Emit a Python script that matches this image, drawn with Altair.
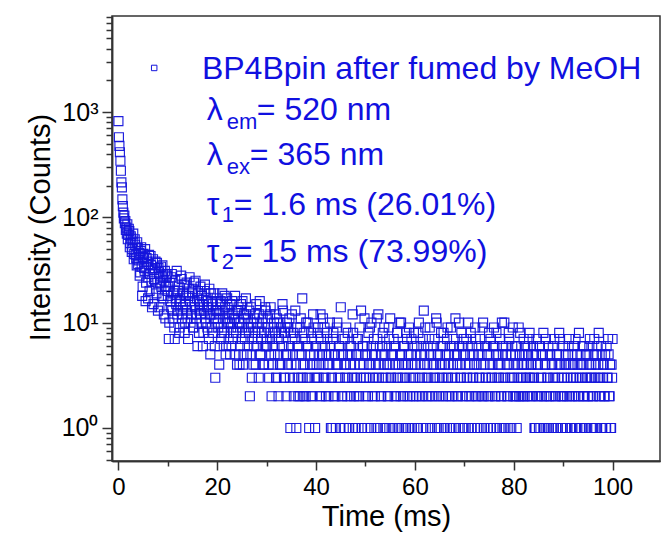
import altair as alt
import pandas as pd

# ---------------- data ----------------
# counts on even channels: t = 0.0, 0.2, 0.4, ... 100.0 ms
even_00_10 = [820, 478, 345, 215, 148, 111, 104, 92, 80, 86,
              68, 74, 57, 63, 50, 70, 45, 55, 41, 58,
              36, 46, 30, 52, 18, 42, 33, 50, 24, 38,
              17, 44, 29, 35, 14, 40, 26, 33, 21, 37,
              13, 30, 24, 34, 18, 27, 12, 31, 22, 28]
even_10_20 = [18, 7, 24, 14, 29, 11, 20, 7, 17, 31,
              13, 22, 9, 16, 26, 12, 19, 8, 15, 24,
              11, 18, 27, 10, 14, 21, 9, 16, 25, 12,
              6, 19, 13, 22, 10, 15, 8, 20, 11, 17,
              9, 14, 21, 5, 12, 16, 8, 19, 3, 11]
even_20_30 = [13, 9, 4, 15, 7, 19, 11, 8, 14, 6,
              17, 10, 12, 5, 9, 16, 7, 11, 18, 8,
              4, 13, 10, 6, 15, 9, 4, 12, 7, 17,
              5, 11, 8, 2, 14, 3, 9, 6, 12, 4,
              10, 7, 3, 16, 5, 8, 11, 4, 6, 13]
even_30_40 = [7, 11, 4, 8, 14, 2, 6, 9, 5, 12,
              3, 7, 2, 10, 4, 8, 15, 6, 3, 9,
              2, 5, 9, 11, 1, 4, 7, 8, 3, 13,
              1, 6, 2, 5, 9, 3, 17, 4, 2, 7,
              10, 3, 6, 1, 4, 8, 2, 12, 5, 1]
even_40_50 = [6, 3, 9, 4, 2, 7, 5, 11, 3, 6,
              2, 8, 4, 5, 10, 1, 3, 7, 2, 5,
              1, 9, 4, 6, 3, 14, 2, 5, 1, 7,
              4, 3, 8, 1, 6, 2, 5, 12, 3, 4,
              1, 7, 2, 5, 9, 3, 1, 6, 4, 11]
even_50_60 = [2, 5, 1, 8, 3, 4, 10, 2, 6, 1,
              5, 3, 7, 12, 4, 1, 2, 6, 3, 9,
              5, 1, 4, 2, 7, 11, 3, 5, 1, 6,
              4, 2, 8, 3, 1, 5, 10, 4, 2, 6,
              3, 1, 7, 4, 9, 2, 5, 1, 3, 8]
even_60_70 = [4, 2, 6, 1, 10, 3, 5, 2, 7, 13,
              4, 1, 3, 6, 2, 9, 5, 1, 4, 3,
              7, 2, 10, 5, 1, 3, 6, 4, 2, 8,
              1, 5, 3, 9, 4, 2, 6, 1, 3, 7,
              5, 11, 2, 4, 1, 6, 3, 8, 2, 5]
even_70_80 = [1, 4, 7, 3, 10, 2, 5, 1, 6, 3,
              4, 9, 2, 1, 5, 3, 7, 4, 2, 10,
              1, 6, 3, 5, 2, 8, 4, 1, 3, 6,
              9, 2, 5, 1, 4, 3, 7, 2, 10, 5,
              1, 3, 6, 4, 2, 8, 1, 5, 3, 9]
even_80_90 = [4, 2, 6, 1, 3, 9, 5, 2, 4, 3,
              7, 2, 5, 4, 6, 3, 8, 2, 4, 5,
              3, 1, 1, 7, 4, 2, 6, 1, 3, 5,
              8, 2, 4, 1, 3, 6, 2, 5, 1, 4,
              3, 7, 2, 1, 5, 3, 8, 4, 1, 2]
even_90_100 = [6, 3, 1, 4, 2, 5, 7, 1, 3, 2,
               4, 6, 1, 3, 5, 2, 8, 1, 4, 3,
               2, 6, 1, 5, 3, 2, 4, 7, 1, 3,
               2, 5, 1, 4, 6, 3, 8, 2, 1, 5,
               3, 4, 2, 1, 6, 3, 5, 2, 1, 4,
               7]

# counts on odd channels: t = 0.1, 0.3, 0.5, ... 99.9 ms
odd_00_10 = [577, 415, 277, 193, 128, 98, 88, 76, 70, 62,
             78, 52, 66, 47, 59, 40, 62, 44, 35, 51,
             39, 28, 48, 34, 22, 45, 31, 16, 41, 27,
             36, 20, 43, 25, 32, 15, 29, 38, 19, 24,
             33, 14, 28, 22, 35, 17, 25, 11, 29, 20]
odd_10_20 = [22, 10, 16, 27, 13, 19, 9, 25, 15, 12,
             20, 8, 17, 28, 11, 14, 23, 10, 18, 13,
             7, 21, 16, 12, 19, 9, 24, 14, 11, 17,
             20, 8, 15, 12, 18, 6, 13, 23, 10, 14,
             16, 7, 12, 19, 9, 15, 11, 6, 13, 17]
odd_20_30 = [10, 12, 6, 16, 8, 13, 9, 18, 5, 11,
             14, 7, 10, 15, 6, 12, 8, 11, 5, 13,
             9, 14, 4, 10, 7, 16, 5, 11, 8, 12,
             6, 9, 13, 5, 10, 7, 4, 11, 8, 15,
             6, 9, 12, 5, 7, 10, 4, 8, 14, 6]
odd_30_40 = [6, 9, 3, 12, 5, 7, 4, 10, 8, 3,
             11, 5, 7, 4, 9, 6, 13, 3, 8, 5,
             10, 4, 6, 3, 8, 12, 5, 2, 7, 4,
             9, 3, 6, 2, 11, 5, 3, 8, 4, 2,
             6, 10, 3, 5, 2, 7, 4, 9, 3, 6]
odd_40_50 = [4, 8, 3, 5, 12, 2, 6, 4, 9, 3,
             5, 7, 2, 4, 6, 3, 1, 8, 5, 2,
             4, 10, 3, 6, 1, 5, 2, 7, 4, 3,
             9, 2, 5, 1, 4, 6, 3, 8, 2, 1,
             5, 3, 7, 2, 4, 13, 1, 6, 3, 5]
odd_50_60 = [3, 6, 2, 4, 9, 1, 5, 3, 7, 2,
             4, 11, 1, 3, 6, 2, 5, 8, 4, 1,
             3, 6, 2, 9, 4, 3, 1, 5, 7, 2,
             6, 3, 1, 4, 10, 2, 5, 3, 6, 1,
             4, 8, 2, 5, 3, 1, 7, 4, 2, 6]
odd_60_70 = [3, 5, 1, 8, 2, 4, 6, 3, 1, 5,
             9, 2, 4, 3, 7, 1, 5, 2, 6, 4,
             3, 11, 1, 5, 2, 4, 8, 3, 6, 1,
             4, 2, 7, 3, 5, 1, 9, 2, 4, 6,
             3, 1, 5, 2, 10, 4, 3, 6, 1, 7]
odd_70_80 = [5, 2, 3, 6, 1, 4, 8, 2, 3, 5,
             1, 7, 4, 2, 6, 3, 1, 5, 9, 2,
             4, 3, 6, 1, 5, 2, 7, 3, 4, 1,
             6, 2, 8, 3, 5, 1, 4, 2, 6, 3,
             10, 1, 5, 2, 4, 7, 3, 1, 6, 2]
odd_80_90 = [3, 5, 2, 6, 4, 2, 8, 3, 5, 2,
             4, 6, 3, 2, 5, 7, 3, 4, 2, 6,
             3, 1, 5, 2, 4, 1, 6, 3, 2, 5,
             1, 4, 7, 2, 3, 1, 5, 2, 4, 6,
             1, 3, 2, 5, 1, 4, 7, 2, 3, 1]
odd_90_100 = [2, 4, 5, 1, 3, 6, 2, 4, 1, 5,
              3, 2, 7, 1, 4, 2, 3, 5, 1, 6,
              4, 2, 3, 1, 5, 2, 6, 3, 4, 1,
              2, 7, 3, 1, 5, 4, 2, 3, 6, 1,
              4, 2, 5, 1, 3, 7, 2, 4, 1, 3]

counts_even = (even_00_10 + even_10_20 + even_20_30 + even_30_40 + even_40_50 +
               even_50_60 + even_60_70 + even_70_80 + even_80_90 + even_90_100)
counts_odd = (odd_00_10 + odd_10_20 + odd_20_30 + odd_30_40 + odd_40_50 +
              odd_50_60 + odd_60_70 + odd_70_80 + odd_80_90 + odd_90_100)
time_even = [round(0.2 * i, 1) for i in range(len(counts_even))]
time_odd = [round(0.1 + 0.2 * i, 1) for i in range(len(counts_odd))]

series_name = "BP4Bpin after fumed by MeOH"

x_major = [0, 20, 40, 60, 80, 100]
x_minor = [10, 30, 50, 70, 90]
y_major = [1, 10, 100, 1000]
y_minor = [0.5, 0.6, 0.7, 0.8, 0.9,
           2, 3, 4, 5, 6, 7, 8, 9,
           20, 30, 40, 50, 60, 70, 80, 90,
           200, 300, 400, 500, 600, 700, 800, 900,
           2000, 3000, 4000, 5000, 6000, 7000, 8000]

# annotation lines: (anchor time, anchor count, [(text, dx, dy, size), ...])
legend_marker = (7.24, 2624)
annotations = [
    (16.9, 2566, [(series_name, 0, 0, 32)]),
    (17.9, 1047, [("λ", 0, 0, 32), ("em", 20, 12, 22), ("= 520 nm", 50, 0, 32)]),
    (17.9, 391, [("λ", 0, 0, 32), ("ex", 20, 12, 22), ("= 365 nm", 43, 0, 32)]),
    (17.9, 131, [("τ", 0, 0, 32), ("1", 15, 10, 22), ("= 1.6 ms (26.01%)", 27, 0, 32)]),
    (17.9, 46.9, [("τ", 0, 0, 32), ("2", 15, 10, 22), ("= 15 ms (73.99%)", 27, 0, 32)]),
]

# ---------------- chart ----------------
FONT = "Liberation Sans"
BLUE_PT = "#1414dc"
BLUE_TXT = "#1010e0"
AX = "#333333"

df = pd.DataFrame({"t": time_even + time_odd, "c": counts_even + counts_odd})
df = df[df["c"] > 0].sort_values("t")

xs = alt.Scale(domain=[-1.3, 109.6], nice=False, zero=False)
ys = alt.Scale(type="log", domain=[0.486, 8170], nice=False)

label_expr = ("datum.value == 1 ? '10⁰' : datum.value == 10 ? '10¹' : "
              "datum.value == 100 ? '10²' : '10³'")

x_axis_major = alt.Axis(values=x_major, tickSize=9, title="Time (ms)", orient="bottom",
                        labelFontSize=24, titleFontSize=29, labelPadding=5, titlePadding=3,
                        labelFlush=False, labelOverlap=False, grid=False)
y_axis_major = alt.Axis(values=y_major, tickSize=10, title="Intensity (Counts)", orient="left",
                        labelExpr=label_expr, labelFontSize=25, titleFontSize=29,
                        labelPadding=4, titlePadding=6, labelOverlap=False, grid=False,
                        titleY=211)
x_axis_minor = alt.Axis(values=x_minor, tickSize=5, title=None, labels=False, orient="bottom",
                        grid=False)
y_axis_minor = alt.Axis(values=y_minor, tickSize=6, title=None, labels=False, orient="left",
                        grid=False)

scatter = alt.Chart(df).mark_point(
    shape="square", filled=False, size=81, strokeWidth=1.15, color=BLUE_PT, opacity=0.95
).encode(
    x=alt.X("t:Q", scale=xs, axis=x_axis_major),
    y=alt.Y("c:Q", scale=ys, axis=y_axis_major),
)

minor = alt.Chart(df).mark_point(opacity=0, size=1).encode(
    x=alt.X("t:Q", scale=xs, axis=x_axis_minor),
    y=alt.Y("c:Q", scale=ys, axis=y_axis_minor),
)

layers = [scatter, minor]

mk_df = pd.DataFrame({"t": [legend_marker[0]], "c": [legend_marker[1]]})
layers.append(
    alt.Chart(mk_df).mark_point(shape="square", filled=False, size=30, strokeWidth=1,
                                color=BLUE_PT, opacity=1).encode(
        x=alt.X("t:Q", scale=xs, axis=None),
        y=alt.Y("c:Q", scale=ys, axis=None),
    )
)

for (t0, c0, parts) in annotations:
    for (txt, dx, dy, fs) in parts:
        d = pd.DataFrame({"t": [t0], "c": [c0], "label": [txt]})
        layers.append(
            alt.Chart(d).mark_text(align="left", baseline="middle", dx=dx, dy=dy,
                                   fontSize=fs, font=FONT, color=BLUE_TXT).encode(
                x=alt.X("t:Q", scale=xs, axis=None),
                y=alt.Y("c:Q", scale=ys, axis=None),
                text="label:N",
            )
        )

chart = alt.layer(*layers).resolve_axis(x="independent", y="independent").properties(
    width=548, height=445,
    autosize=alt.AutoSizeParams(type="none"),
    padding={"left": 112, "top": 16, "right": 2, "bottom": 72},
    background="white",
).configure_view(
    stroke=AX, strokeWidth=1.5
).configure_axis(
    labelFont=FONT, titleFont=FONT, labelColor="black", titleColor="black",
    titleFontWeight="normal", domainColor=AX, domainWidth=1.5,
    tickColor=AX, tickWidth=1.5,
)

chart.save("out.html", embed_options={"renderer": "svg", "actions": False})
